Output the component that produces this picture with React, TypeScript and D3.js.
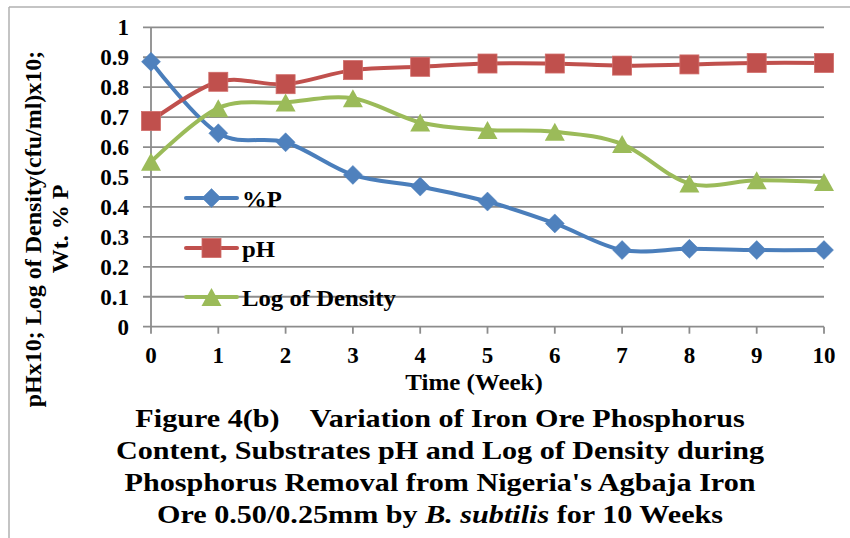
import React from "react";
import * as d3 from "d3";

const weeks = [0, 1, 2, 3, 4, 5, 6, 7, 8, 9, 10];
const percentP = [0.885, 0.646, 0.616, 0.507, 0.468, 0.418, 0.345, 0.256, 0.26, 0.256, 0.256];
const pH = [0.687, 0.818, 0.81, 0.857, 0.868, 0.879, 0.879, 0.872, 0.876, 0.881, 0.881];
const logDensity = [0.551, 0.73, 0.749, 0.763, 0.682, 0.657, 0.651, 0.61, 0.478, 0.489, 0.483];
const yTicks = [0, 0.1, 0.2, 0.3, 0.4, 0.5, 0.6, 0.7, 0.8, 0.9, 1];
const yTickLabels = ["0", "0.1", "0.2", "0.3", "0.4", "0.5", "0.6", "0.7", "0.8", "0.9", "1"];
const seriesNames = ["%P", "pH", "Log of Density"];
const captionLines = [
  "Figure 4(b)\u00a0\u00a0\u00a0\u00a0Variation of Iron Ore Phosphorus",
  "Content, Substrates pH and Log of Density during",
  "Phosphorus Removal from Nigeria's Agbaja Iron",
];
const yTitleLines = ["pHx10; Log of Density(cfu/ml)x10;", "Wt. % P"];
const xTitle = "Time (Week)";

const FONT = '"Liberation Serif", Tinos, "Times New Roman", "Nimbus Roman", "DejaVu Serif", serif';

type Shape = "diamond" | "square" | "triangle";

function Marker({ x, y, shape, color }: { x: number; y: number; shape: Shape; color: string }) {
  if (shape === "diamond") {
    const r = 9.5;
    return <path d={`M${x},${y - r}L${x + r},${y}L${x},${y + r}L${x - r},${y}Z`} fill={color} stroke={color} strokeWidth={0.5} />;
  }
  if (shape === "square") {
    const s = 19;
    return <rect x={x - s / 2} y={y - s / 2} width={s} height={s} fill="#C0504D" stroke="#D06B68" strokeWidth={0.8} />;
  }
  const w = 20, h = 18;
  return <path d={`M${x},${y - h / 2}L${x + w / 2},${y + h / 2}L${x - w / 2},${y + h / 2}Z`} fill={color} />;
}

const T: React.CSSProperties = { fontFamily: FONT, fontWeight: 700 };

export default function App() {
  const x = d3.scaleLinear().domain([0, 10]).range([151, 824]);
  const y = d3.scaleLinear().domain([0, 1]).range([326.7, 27.3]);
  const line = d3
    .line<number>()
    .x((_, i) => x(weeks[i]))
    .y((d) => y(d))
    .curve(d3.curveCardinal.tension(0));

  const series = [
    { name: seriesNames[0], values: percentP, color: "#4A7EBB", marker: "#4F81BD", shape: "diamond" as Shape },
    { name: seriesNames[1], values: pH, color: "#C0504D", marker: "#C0504D", shape: "square" as Shape },
    { name: seriesNames[2], values: logDensity, color: "#9BBB59", marker: "#9BBB59", shape: "triangle" as Shape },
  ];
  const legendY = [198, 248, 297];

  return (
    <svg width={850} height={538} style={{ position: "absolute", left: 0, top: 0, background: "#fff" }}>
      <rect x={0} y={0} width={850} height={538} fill="#fff" />
      <line x1={9} x2={850} y1={7} y2={7} stroke="#b0b0b0" strokeWidth={1.5} />
      <line x1={9} x2={9} y1={7} y2={538} stroke="#b0b0b0" strokeWidth={1.5} />

      {yTicks.map((t) => (
        <line key={t} x1={143} x2={x(10)} y1={y(t)} y2={y(t)} stroke="#8c8c8c" strokeWidth={1.8} />
      ))}
      <line x1={x(0)} x2={x(0)} y1={y(1)} y2={y(0)} stroke="#8c8c8c" strokeWidth={1.8} />
      {weeks.map((w) => (
        <line key={w} x1={x(w)} x2={x(w)} y1={y(0)} y2={y(0) + 7} stroke="#8c8c8c" strokeWidth={1.8} />
      ))}

      {yTicks.map((t, i) => (
        <text key={t} x={129} y={y(t) + 8} fontSize={23} textAnchor="end" fill="#000" style={T}>
          {yTickLabels[i]}
        </text>
      ))}
      {weeks.map((w) => (
        <text key={w} x={x(w)} y={363} fontSize={23} textAnchor="middle" fill="#000" style={T}>
          {w}
        </text>
      ))}

      {series.map((s) => (
        <g key={s.name}>
          <path d={line(s.values) || ""} fill="none" stroke={s.color} strokeWidth={4} strokeLinejoin="round" strokeLinecap="round" />
          {s.values.map((v, i) => (
            <Marker key={i} x={x(weeks[i])} y={y(v)} shape={s.shape} color={s.marker} />
          ))}
        </g>
      ))}

      {series.map((s, i) => (
        <g key={s.name}>
          <line x1={186} x2={237} y1={legendY[i]} y2={legendY[i]} stroke={s.color} strokeWidth={4} strokeLinecap="round" />
          <Marker x={211.5} y={legendY[i]} shape={s.shape} color={s.marker} />
          <text transform={`translate(242,${legendY[i] + 9}) scale(1.03,1)`} fontSize={24} fill="#000" style={T}>
            {s.name}
          </text>
        </g>
      ))}

      <text transform="translate(474,390) scale(1.04,1)" fontSize={24} textAnchor="middle" fill="#000" style={T}>
        {xTitle}
      </text>
      <text transform="translate(41,229) rotate(-90)" fontSize={24} textAnchor="middle" fill="#000" style={T}>
        {yTitleLines[0]}
      </text>
      <text transform="translate(68,229) rotate(-90)" fontSize={24} textAnchor="middle" fill="#000" style={T}>
        {yTitleLines[1]}
      </text>

      {captionLines.map((c, i) => (
        <text key={i} transform={`translate(440,${427 + i * 32}) scale(1.16,1)`} fontSize={26} textAnchor="middle" fill="#000" style={T}>
          {c}
        </text>
      ))}
      <text transform="translate(440,523) scale(1.16,1)" fontSize={26} textAnchor="middle" fill="#000" style={T}>
        Ore 0.50/0.25mm by <tspan fontStyle="italic">B. subtilis</tspan> for 10 Weeks
      </text>
    </svg>
  );
}
